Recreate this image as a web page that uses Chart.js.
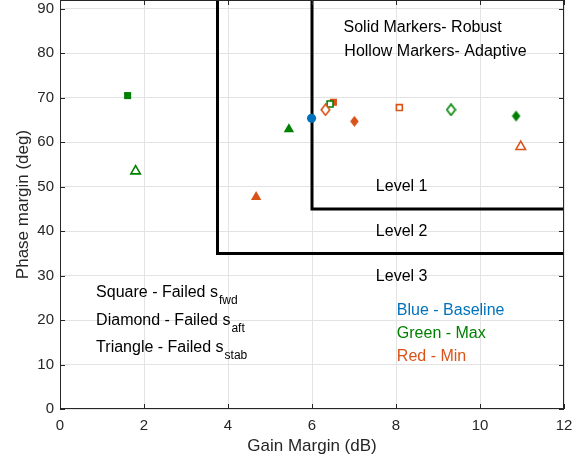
<!DOCTYPE html>
<html>
<head>
<meta charset="utf-8">
<script src="https://cdn.jsdelivr.net/npm/chart.js@4"></script>
<style>
  html, body { margin: 0; padding: 0; background: #ffffff; }
  #wrap { width: 585px; height: 463px; position: relative; }
</style>
</head>
<body>
<div id="wrap"><canvas id="cchart" width="585" height="463"></canvas></div>
<script>
// Gain margin (dB) / phase margin (deg) for each case
const baselineRobust = [{ x: 5.99, y: 65.4 }];

const maxRobustSquare = [{ x: 1.61, y: 70.5 }];
const maxRobustTriangle = [{ x: 5.45, y: 62.9 }];
const maxRobustDiamond = [{ x: 10.86, y: 65.9 }];
const maxAdaptiveSquare = [{ x: 6.43, y: 68.6 }];
const maxAdaptiveTriangle = [{ x: 1.80, y: 53.5 }];
const maxAdaptiveDiamond = [{ x: 9.31, y: 67.3 }];

const minRobustSquare = [{ x: 6.51, y: 69.0 }];
const minRobustTriangle = [{ x: 4.67, y: 47.7 }];
const minRobustDiamond = [{ x: 7.01, y: 64.7 }];
const minAdaptiveSquare = [{ x: 8.08, y: 67.8 }];
const minAdaptiveTriangle = [{ x: 10.97, y: 59.0 }];
const minAdaptiveDiamond = [{ x: 6.32, y: 67.3 }];

// level boundaries
const level1Boundary = [{ x: 6, y: 92 }, { x: 6, y: 45 }, { x: 12, y: 45 }];
const level2Boundary = [{ x: 3.75, y: 92 }, { x: 3.75, y: 35 }, { x: 12, y: 35 }];

// text notes (axis units), [text, subscript, x, y, colour]
const notes = [
    ["Solid Markers- Robust", "", 6.75, 85.7, "#000000"],
    ["Hollow Markers- Adaptive", "", 6.77, 80.3, "#000000"],
    ["Level 1", "", 7.52, 50.0, "#000000"],
    ["Level 2", "", 7.52, 39.8, "#000000"],
    ["Level 3", "", 7.52, 29.7, "#000000"],
    ["Square - Failed s", "fwd", 0.86, 26.1, "#000000"],
    ["Diamond - Failed s", "aft", 0.86, 19.8, "#000000"],
    ["Triangle - Failed s", "stab", 0.86, 13.8, "#000000"],
    ["Blue - Baseline", "", 8.02, 22.1, "#0072BD"],
    ["Green - Max", "", 8.02, 17.0, "#008000"],
    ["Red - Min", "", 8.02, 11.9, "#D95319"]
];

const xTicks = [0, 2, 4, 6, 8, 10, 12];
const yTicks = [0, 10, 20, 30, 40, 50, 60, 70, 80, 90];

const BLUE = "#0072BD";
const GREEN = "#008000";
const RED = "#D95319";
const FONT = "'Liberation Sans', Arial, Helvetica, sans-serif";

/*
    Tall diamond marker like matlab's 'd'
*/
function makeDiamond(color, filled) {
    let c = document.createElement("canvas");
    c.width = 11;
    c.height = 13;
    let g = c.getContext("2d");
    g.beginPath();
    g.moveTo(5.5, 1);
    g.lineTo(9.8, 6.5);
    g.lineTo(5.5, 12);
    g.lineTo(1.2, 6.5);
    g.closePath();
    if (filled) {
        g.fillStyle = color;
        g.fill();
    } else {
        g.fillStyle = "#ffffff";
        g.fill();
        g.lineWidth = 1.6;
        g.strokeStyle = color;
        g.stroke();
    }
    return c;
}

function markers(data, color, shape, filled) {
    let ds = {
        data: data,
        pointRadius: shape === "circle" ? 4.6 : (shape === "triangle" ? 6 : 5),
        pointStyle: shape === "diamond" ? makeDiamond(color, filled) : shape,
        borderColor: color,
        backgroundColor: filled ? color : "#ffffff",
        borderWidth: filled ? 0 : 1.6,
        pointHoverRadius: 5,
        order: 1
    };
    if (!filled && shape === "triangle") ds.pointRadius = 5.5;
    if (!filled && shape === "rect") ds.pointRadius = 4.2;
    return ds;
}

function boundary(data) {
    return {
        data: data,
        showLine: true,
        borderColor: "#000000",
        borderWidth: 3,
        pointRadius: 0,
        fill: false,
        order: 2
    };
}

const datasets = [
    boundary(level1Boundary),
    boundary(level2Boundary),
    markers(maxRobustSquare, GREEN, "rect", true),
    markers(maxAdaptiveTriangle, GREEN, "triangle", false),
    markers(minRobustTriangle, RED, "triangle", true),
    markers(maxRobustTriangle, GREEN, "triangle", true),
    markers(minAdaptiveDiamond, RED, "diamond", false),
    markers(maxAdaptiveSquare, GREEN, "rect", false),
    markers(minRobustSquare, RED, "rect", true),
    markers(minRobustDiamond, RED, "diamond", true),
    markers(minAdaptiveSquare, RED, "rect", false),
    markers(maxAdaptiveDiamond, GREEN, "diamond", false),
    markers(maxRobustDiamond, GREEN, "diamond", true),
    markers(minAdaptiveTriangle, RED, "triangle", false),
    markers(baselineRobust, BLUE, "circle", true)
];

/*
    Box, inward ticks, axis titles and text notes
*/
const decorations = {
    id: "decorations",
    afterDraw(chart) {
        let ctx = chart.ctx;
        let a = chart.chartArea;
        let xs = chart.scales.x;
        let ys = chart.scales.y;
        ctx.save();

        ctx.strokeStyle = "#262626";
        ctx.lineWidth = 1;
        ctx.beginPath();
        ctx.moveTo(a.left, a.top + 0.5);
        ctx.lineTo(a.right, a.top + 0.5);
        ctx.moveTo(a.right - 0.5, a.top);
        ctx.lineTo(a.right - 0.5, a.bottom);
        ctx.moveTo(a.left + 0.5, a.top);
        ctx.lineTo(a.left + 0.5, a.bottom);
        ctx.moveTo(a.left, a.bottom - 0.5);
        ctx.lineTo(a.right, a.bottom - 0.5);
        for (const v of xTicks) {
            let px = Math.round(xs.getPixelForValue(v)) + 0.5;
            ctx.moveTo(px, a.bottom);
            ctx.lineTo(px, a.bottom - 5);
            ctx.moveTo(px, a.top);
            ctx.lineTo(px, a.top + 5);
        }
        for (const v of yTicks) {
            let py = Math.round(ys.getPixelForValue(v)) + 0.5;
            ctx.moveTo(a.left, py);
            ctx.lineTo(a.left + 5, py);
            ctx.moveTo(a.right, py);
            ctx.lineTo(a.right - 5, py);
        }
        ctx.stroke();

        ctx.fillStyle = "#262626";
        ctx.font = "17px " + FONT;
        ctx.textAlign = "center";
        ctx.textBaseline = "middle";
        ctx.fillText("Gain Margin (dB)", (a.left + a.right) / 2, 446);
        ctx.translate(23, (a.top + a.bottom) / 2);
        ctx.rotate(-Math.PI / 2);
        ctx.fillText("Phase margin (deg)", 0, 0);
        ctx.setTransform(1, 0, 0, 1, 0, 0);

        ctx.textAlign = "left";
        for (const n of notes) {
            let px = xs.getPixelForValue(n[2]);
            let py = ys.getPixelForValue(n[3]);
            ctx.fillStyle = n[4];
            ctx.font = "16px " + FONT;
            ctx.fillText(n[0], px, py);
            if (n[1]) {
                let w = ctx.measureText(n[0]).width;
                ctx.font = "12px " + FONT;
                ctx.fillText(n[1], px + w + 1, py + 8);
            }
        }
        ctx.restore();
    }
};

let UICanvasChart = document.getElementById("cchart");
let _chart = new Chart(UICanvasChart.getContext("2d"), {
    type: "scatter",
    data: { datasets: datasets },
    options: {
        responsive: false,
        animation: false,
        layout: { autoPadding: false, padding: { top: 0, right: 21, left: 0, bottom: 0 } },
        plugins: {
            legend: { display: false },
            tooltip: { enabled: false }
        },
        scales: {
            x: {
                type: "linear",
                min: 0,
                max: 12,
                afterFit: function (s) {
                    s.height = 54;
                    s.paddingLeft = 0;
                    s.paddingRight = 0;
                },
                afterBuildTicks: function (s) { s.ticks = xTicks.map(v => ({ value: v })); },
                grid: { color: "#e3e3e3", drawTicks: false },
                border: { display: false },
                ticks: { color: "#262626", font: { size: 15, family: FONT }, padding: 8, maxRotation: 0 }
            },
            y: {
                type: "linear",
                min: 0,
                max: 92,
                afterFit: function (s) {
                    s.width = 60;
                    s.paddingTop = 0;
                    s.paddingBottom = 0;
                },
                afterBuildTicks: function (s) { s.ticks = yTicks.map(v => ({ value: v })); },
                grid: { color: "#e3e3e3", drawTicks: false },
                border: { display: false },
                ticks: { color: "#262626", font: { size: 15, family: FONT }, padding: 6 }
            }
        }
    },
    plugins: [decorations]
});
</script>
</body>
</html>
